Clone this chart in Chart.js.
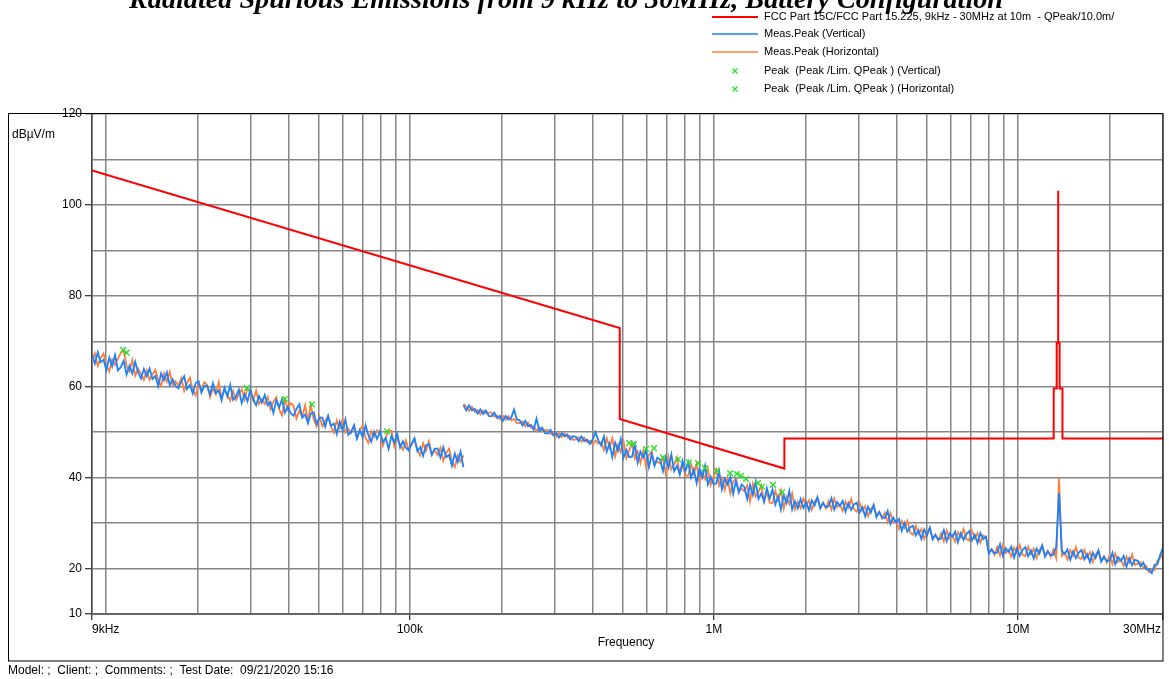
<!DOCTYPE html>
<html>
<head>
<meta charset="utf-8">
<script src="https://cdn.jsdelivr.net/npm/chart.js@4.4.1/dist/chart.umd.min.js"></script>
<style>
html, body { margin: 0; padding: 0; background: #fff; }
#wrap { position: relative; width: 1169px; height: 679px; }
</style>
</head>
<body>
<div id="wrap"><canvas id="myChart" width="1169" height="679"></canvas></div>
<script>
// Barrido: dos bandas del receptor (9k-150k y 150k-30M)
const band1Start = 9000, band1Stop = 150000;
const band2Start = 150000, band2Stop = 30000000;

// Meas.Peak (Vertical), banda 1
const vertBand1 = [
  67.1,65.1,67.6,65.4,65.9,63.7,66.4,64.5,67.0,63.6,
  64.3,65.7,62.7,64.6,62.9,65.5,63.2,61.8,63.9,62.3,
  64.0,61.7,62.4,60.1,62.9,61.4,63.2,60.3,61.6,60.2,
  59.6,61.2,62.3,59.5,60.4,58.5,60.8,61.2,58.7,60.2,
  60.2,58.3,60.8,58.6,59.2,57.0,59.8,57.9,60.4,57.1,
  57.9,59.4,56.4,58.4,56.8,59.4,57.2,55.9,58.0,56.5,
  58.2,55.9,56.6,54.2,57.0,55.5,57.3,54.3,55.6,54.2,
  53.6,55.1,56.1,53.2,53.9,52.0,54.1,54.4,51.8,53.2,
  53.2,51.2,53.6,51.4,51.9,49.6,52.3,50.4,52.8,49.4,
  50.1,51.5,48.6,50.5,48.9,51.5,49.3,47.9,50.1,48.5,
  50.2,47.9,48.7,46.3,49.2,47.7,49.6,46.6,48.0,46.6,
  46.0,47.5,48.7,45.8,46.7,44.8,47.1,47.4,45.0,46.4,
  46.4,44.4,46.7,44.5,45.0,42.6,45.3,43.4,45.7,42.3
];
// Meas.Peak (Horizontal), banda 1
const horzBand1 = [
  65.7,67.3,64.6,66.3,67.3,64.7,63.4,66.0,64.8,66.2,
  67.4,68.0,64.6,63.3,65.9,62.4,64.0,62.9,61.5,63.6,
  61.5,62.7,63.7,61.5,60.2,62.9,61.1,63.3,60.3,61.2,
  60.2,61.9,59.1,60.9,62.0,59.3,58.1,60.8,59.5,61.0,
  60.4,57.7,59.6,58.3,61.0,57.6,59.3,58.2,56.9,59.1,
  57.1,58.4,59.4,57.2,59.7,58.7,57.0,59.2,56.2,57.2,
  56.2,57.8,55.0,56.7,57.7,55.0,53.7,57.3,55.0,56.4,
  55.8,53.0,54.7,53.4,55.9,52.4,56.0,52.8,51.3,53.4,
  51.3,52.5,53.5,51.2,49.9,52.6,50.8,52.9,49.9,50.8,
  49.8,51.4,48.7,50.4,51.5,48.8,47.6,50.2,49.0,50.4,
  49.8,47.0,48.9,50.2,50.3,46.8,48.5,47.4,46.1,48.2,
  46.1,47.3,48.4,46.1,44.9,47.6,45.9,48.0,45.1,46.0,
  45.0,46.6,43.7,45.4,46.4,43.6,42.3,44.9,43.5,44.9
];
// Meas.Peak (Vertical), banda 2
const vertBand2 = [
  55.9,54.8,55.9,54.8,55.1,54.1,55.0,54.0,54.8,53.6,
  53.5,54.3,53.1,53.6,52.5,53.6,52.8,53.2,55.0,52.8,
  52.6,51.5,52.5,51.3,51.6,50.5,53.0,50.3,51.0,49.8,
  49.7,50.5,49.3,49.8,48.8,49.8,49.1,49.5,48.4,49.1,
  49.0,48.0,49.1,48.0,48.4,47.4,48.4,50.0,48.2,47.1,
  49.1,45.7,47.5,44.5,47.7,45.9,48.5,44.4,46.1,44.5,
  44.6,47.3,43.3,45.7,44.4,46.0,42.3,45.2,42.6,44.4,
  44.0,41.4,44.5,42.2,45.1,41.4,42.6,40.7,43.7,41.4,
  43.4,40.0,41.8,38.8,42.0,40.0,42.6,38.5,40.2,38.6,
  38.7,41.4,37.4,39.8,38.5,40.1,36.4,39.3,36.7,38.5,
  37.9,35.3,38.4,36.2,39.1,35.3,36.5,34.7,37.7,35.4,
  37.4,34.1,35.9,33.0,36.2,34.4,37.1,33.0,34.8,33.2,
  35.3,33.3,34.6,32.8,35.0,33.9,35.7,33.2,34.4,33.5,
  33.7,35.5,33.0,34.6,33.8,34.9,32.5,34.4,32.9,34.1,
  34.5,32.3,33.5,31.5,33.6,32.3,34.0,31.3,32.4,31.3,
  31.1,32.7,29.8,31.2,30.2,30.9,28.3,30.0,28.1,29.1,
  29.4,27.3,28.4,26.5,28.6,27.3,29.0,26.4,27.4,26.4,
  26.6,28.5,26.0,27.7,27.0,28.1,25.8,27.8,26.3,27.6,
  28.2,26.2,27.4,25.6,27.8,26.5,27.0,23.3,24.2,23.3,
  23.5,25.4,22.8,24.5,23.7,24.8,22.4,24.4,22.8,24.1,
  24.7,22.7,24.0,22.2,24.4,23.3,25.1,22.6,23.8,22.9,
  23.0,24.8,36.6,23.9,23.2,24.2,21.9,23.8,22.3,23.5,
  24.1,22.0,23.2,21.4,23.5,22.3,24.0,21.5,22.6,21.6,
  21.7,23.5,20.9,22.5,21.7,22.8,20.4,22.3,20.7,21.9,
  21.7,20.5,21.3,19.8,19.8,19.0,20.8,20.9,23.0,24.6
];
// Meas.Peak (Horizontal), banda 2
const horzBand2 = [
  56.2,55.7,54.7,55.6,54.5,54.9,53.9,54.8,54.1,54.3,
  54.3,53.4,53.7,52.8,53.6,52.7,53.5,52.6,52.9,52.0,
  52.0,52.4,51.3,52.1,51.0,51.3,50.3,51.1,50.3,50.5,
  50.5,49.6,49.9,49.0,49.9,48.9,49.8,48.9,49.2,48.3,
  48.4,48.9,47.9,48.8,47.8,48.2,47.3,48.2,47.5,47.8,
  46.1,48.7,46.6,48.7,44.7,47.3,45.6,47.9,44.3,46.0,
  47.6,44.2,45.8,43.2,45.9,42.4,45.0,45.7,43.0,43.5,
  43.1,44.4,40.9,44.6,41.8,42.9,44.4,40.8,42.8,40.5,
  40.4,43.0,40.9,43.0,39.0,41.4,39.7,42.0,38.4,40.1,
  41.7,38.3,39.9,37.3,40.0,36.5,39.1,39.8,37.1,37.6,
  37.0,38.3,34.8,38.6,35.8,36.8,38.3,34.8,36.8,34.5,
  34.4,37.1,35.0,37.2,33.2,35.8,34.2,36.5,33.0,34.7,
  33.3,35.4,33.8,35.0,32.9,34.7,35.6,33.5,34.5,33.2,
  34.9,33.0,35.4,33.5,34.1,32.7,34.7,33.4,35.3,33.0,
  32.5,34.4,32.7,33.7,31.5,33.1,33.9,31.6,32.5,31.0,
  32.3,30.2,32.2,30.1,30.5,28.7,30.5,29.0,30.5,28.0,
  27.4,29.4,27.6,28.7,26.5,28.1,28.9,26.7,27.5,26.1,
  27.8,26.0,28.4,26.6,27.3,25.9,28.0,26.8,28.7,26.5,
  26.2,28.3,26.6,27.8,25.7,27.3,26.9,23.6,24.3,23.0,
  24.7,22.9,25.2,23.4,24.0,22.6,24.6,23.4,25.2,23.0,
  22.7,24.8,23.2,24.4,22.3,24.1,25.0,22.9,23.9,22.6,
  24.2,22.3,40.0,22.8,23.5,22.0,24.1,22.8,24.7,22.4,
  22.1,24.1,22.4,23.6,21.4,23.1,23.9,21.8,22.7,21.3,
  22.9,21.0,23.3,21.4,22.0,20.6,22.6,21.3,23.1,20.8,
  21.1,21.4,20.1,20.6,19.2,19.8,19.7,21.7,22.3,23.6
];

// Límite FCC Part 15C / 15.225
const limitFreq  = [9000, 490000, 490000, 1705000, 1705000, 13110000, 13110000, 13410000, 13410000, 13553000, 13553000, 13567000, 13567000, 13710000, 13710000, 14010000, 14010000, 30000000];
const limitLevel = [107.6, 72.9, 52.9, 42.0, 48.6, 48.6, 59.6, 59.6, 69.6, 69.6, 103.1, 103.1, 69.6, 69.6, 59.6, 59.6, 48.6, 48.6];

// Peak (Peak /Lim. QPeak)
const peakVertFreq  = [11400, 29100, 47600, 526000, 598000, 680000, 828000, 934000, 1130000, 1228000, 1396000, 1565000];
const peakVertLevel = [68.1, 59.7, 56.1, 47.6, 46.3, 44.4, 43.4, 42.1, 41.0, 40.4, 38.8, 38.4];
const peakHorzFreq  = [11700, 38800, 84100, 546000, 635000, 762000, 886000, 1023000, 1190000, 1275000, 1439000, 1675000];
const peakHorzLevel = [67.5, 57.3, 50.2, 47.4, 46.5, 44.0, 43.2, 41.5, 40.8, 39.7, 38.0, 36.8];

// Ejes
const yTickLabels = [120, 100, 80, 60, 40, 20, 10];
const xGridFreqs = [9000, 10000, 20000, 30000, 40000, 50000, 60000, 70000, 80000, 90000,
  100000, 200000, 300000, 400000, 500000, 600000, 700000, 800000, 900000,
  1000000, 2000000, 3000000, 4000000, 5000000, 6000000, 7000000, 8000000, 9000000,
  10000000, 20000000, 30000000];
const xTickFreqs  = [9000, 100000, 1000000, 10000000, 30000000];
const xTickLabels = ['9kHz', '100k', '1M', '10M', '30MHz'];

const legendLabels = [
  'FCC Part 15C/FCC Part 15.225, 9kHz - 30MHz at 10m  - QPeak/10.0m/',
  'Meas.Peak (Vertical)',
  'Meas.Peak (Horizontal)',
  'Peak  (Peak /Lim. QPeak ) (Vertical)',
  'Peak  (Peak /Lim. QPeak ) (Horizontal)'
];

const RED = '#ff0000', BLUE = '#1a82ff', ORANGE = '#ff7f3a', GREEN = '#22e022';
const FONT = '"Liberation Sans", Arial, sans-serif';

// frecuencias del barrido (paso logarítmico)
function sweep(start, stop, n) {
  const out = [];
  for (let i = 0; i < n; i++) out.push(start * Math.pow(stop / start, i / (n - 1)));
  return out;
}

function trace(v1, v2) {
  const f1 = sweep(band1Start, band1Stop, v1.length);
  const f2 = sweep(band2Start, band2Stop, v2.length);
  const pts = v1.map((y, i) => ({x: f1[i], y: y}));
  pts.push({x: band1Stop, y: null}); // hueco entre bandas
  return pts.concat(v2.map((y, i) => ({x: f2[i], y: y})));
}

function pairs(xs, ys) {
  return xs.map((x, i) => ({x: x, y: ys[i]}));
}

function drawCross(ctx, x, y, r) {
  ctx.beginPath();
  ctx.moveTo(x - r, y - r); ctx.lineTo(x + r, y + r);
  ctx.moveTo(x + r, y - r); ctx.lineTo(x - r, y + r);
  ctx.stroke();
}

// Textos, marco y leyenda
const decorPlugin = {
  id: 'decorPlugin',
  afterDraw: (chart) => {
    const ctx = chart.ctx;
    const xs = chart.scales.x;
    const area = chart.chartArea;
    ctx.save();

    // marco exterior
    ctx.strokeStyle = '#000';
    ctx.lineWidth = 1;
    ctx.strokeRect(8.5, 113.5, area.right - 8.5, 661 - 113.5);

    // título (cortado arriba)
    const title = 'Radiated Spurious Emissions from 9 kHz to 30MHz, Battery Configuration';
    ctx.fillStyle = '#000';
    ctx.font = 'bold italic 24px "Liberation Serif", "Times New Roman", serif';
    const w = ctx.measureText(title).width;
    const size = 24 * 873 / w;
    ctx.font = 'bold italic ' + size.toFixed(1) + 'px "Liberation Serif", "Times New Roman", serif';
    ctx.textAlign = 'center';
    ctx.textBaseline = 'alphabetic';
    ctx.fillText(title, 566, 8);

    // leyenda
    ctx.font = '11px ' + FONT;
    ctx.textAlign = 'left';
    ctx.textBaseline = 'middle';
    const rows = [17, 34, 52, 71, 89];
    const lineColors = [RED, BLUE, ORANGE];
    rows.forEach((ry, i) => {
      if (i < 3) {
        ctx.strokeStyle = lineColors[i];
        ctx.lineWidth = i === 0 ? 2 : 1.5;
        ctx.beginPath();
        ctx.moveTo(712, ry); ctx.lineTo(758, ry);
        ctx.stroke();
      } else {
        ctx.strokeStyle = GREEN;
        ctx.lineWidth = 1.2;
        drawCross(ctx, 735, ry, 2.5);
      }
      ctx.fillStyle = '#000';
      ctx.fillText(legendLabels[i], 764, ry);
    });

    // unidades y nombre del eje
    ctx.font = '12px ' + FONT;
    ctx.fillText('dBµV/m', 12, 135);
    ctx.textAlign = 'center';
    ctx.fillText('Frequency', 626, 643);

    // etiquetas del eje X
    xTickFreqs.forEach((f, i) => {
      const px = xs.getPixelForValue(f);
      ctx.textAlign = i === 0 ? 'left' : (i === xTickFreqs.length - 1 ? 'right' : 'center');
      ctx.fillText(xTickLabels[i], i === xTickFreqs.length - 1 ? px - 2 : px, area.bottom + 16);
    });

    // pie
    ctx.font = '12px ' + FONT;
    ctx.textAlign = 'left';
    ctx.fillText('Model: ;  Client: ;  Comments: ;  Test Date:  09/21/2020 15:16', 8, 671);
    ctx.restore();
  }
};

function renderChart() {
  const ctx = document.getElementById('myChart').getContext('2d');
  new Chart(ctx, {
    type: 'line',
    data: {
      datasets: [
        {
          label: legendLabels[3],
          data: pairs(peakVertFreq, peakVertLevel),
          showLine: false,
          pointStyle: 'crossRot',
          pointRadius: 4,
          borderColor: GREEN,
          borderWidth: 1.3,
          order: 0
        },
        {
          label: legendLabels[4],
          data: pairs(peakHorzFreq, peakHorzLevel),
          showLine: false,
          pointStyle: 'crossRot',
          pointRadius: 4,
          borderColor: GREEN,
          borderWidth: 1.3,
          order: 0
        },
        {
          label: legendLabels[0],
          data: pairs(limitFreq, limitLevel),
          borderColor: RED,
          borderWidth: 2,
          pointRadius: 0,
          tension: 0,
          order: 1
        },
        {
          label: legendLabels[1],
          data: trace(vertBand1, vertBand2),
          borderColor: BLUE,
          borderWidth: 1.8,
          pointRadius: 0,
          tension: 0,
          spanGaps: false,
          order: 2
        },
        {
          label: legendLabels[2],
          data: trace(horzBand1, horzBand2),
          borderColor: ORANGE,
          borderWidth: 1.8,
          pointRadius: 0,
          tension: 0,
          spanGaps: false,
          order: 3
        }
      ]
    },
    options: {
      responsive: false,
      animation: false,
      devicePixelRatio: 1,
      layout: { padding: { top: 114, left: 0, right: 6, bottom: 25 } },
      plugins: {
        legend: { display: false },
        title: { display: false },
        tooltip: { enabled: false }
      },
      scales: {
        x: {
          type: 'logarithmic',
          min: 9000,
          max: 30000000,
          afterBuildTicks: (scale) => {
            scale.ticks = xGridFreqs.map(v => ({ value: v }));
          },
          afterFit: (scale) => { scale.height = 40; },
          ticks: { display: false, autoSkip: false },
          grid: {
            color: '#868686',
            lineWidth: 1.5,
            drawTicks: true,
            tickLength: 6,
            tickWidth: 1,
            tickColor: (c) => (c.tick && xTickFreqs.includes(c.tick.value)) ? '#000' : 'rgba(0,0,0,0)'
          },
          border: { color: '#666', width: 2 }
        },
        y: {
          type: 'linear',
          min: 10,
          max: 120,
          afterFit: (scale) => { scale.width = 92; },
          ticks: {
            stepSize: 10,
            autoSkip: false,
            padding: 3,
            color: '#000',
            font: { family: FONT, size: 12 },
            callback: (v) => yTickLabels.includes(v) ? String(v) : ''
          },
          grid: {
            color: '#868686',
            lineWidth: 1.5,
            drawTicks: true,
            tickLength: 7,
            tickWidth: 1,
            tickColor: (c) => (c.tick && yTickLabels.includes(c.tick.value)) ? '#000' : 'rgba(0,0,0,0)'
          },
          border: { color: '#444', width: 1.5 }
        }
      }
    },
    plugins: [decorPlugin]
  });
}

renderChart();
</script>
</body>
</html>
